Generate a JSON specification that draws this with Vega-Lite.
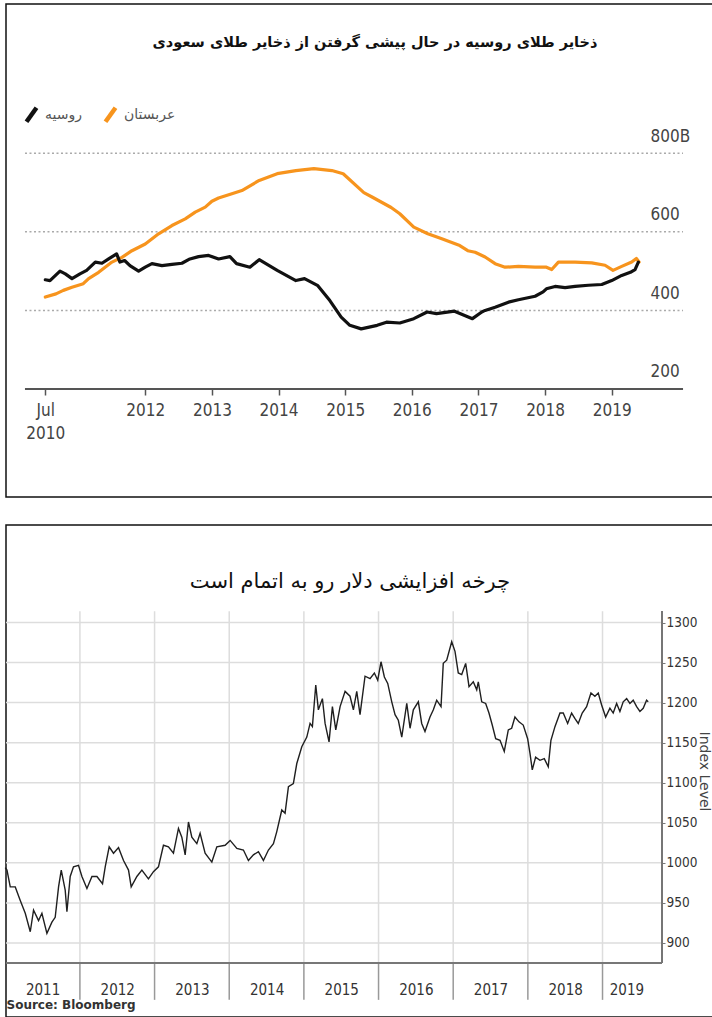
{
  "$schema": "https://vega.github.io/schema/vega-lite/v6.json",
  "background": "white",
  "padding": {"left": 1, "top": 3, "right": 1, "bottom": 3},
  "spacing": 26,
  "config": {
    "view": {"stroke": "#111", "strokeWidth": 1.5},
    "axis": {"labelFont": "Liberation Sans Narrow, DejaVu Sans Condensed, sans-serif"}
  },
  "datasets": {
    "reserves": [
      {"s": "عربستان", "t": 2010.5, "v": 434}, {"s": "عربستان", "t": 2010.66, "v": 442},
      {"s": "عربستان", "t": 2010.77, "v": 451}, {"s": "عربستان", "t": 2010.9, "v": 459},
      {"s": "عربستان", "t": 2011.07, "v": 468}, {"s": "عربستان", "t": 2011.15, "v": 481},
      {"s": "عربستان", "t": 2011.3, "v": 497}, {"s": "عربستان", "t": 2011.5, "v": 523},
      {"s": "عربستان", "t": 2011.65, "v": 535}, {"s": "عربستان", "t": 2011.8, "v": 552},
      {"s": "عربستان", "t": 2012.0, "v": 569}, {"s": "عربستان", "t": 2012.2, "v": 595},
      {"s": "عربستان", "t": 2012.4, "v": 616}, {"s": "عربستان", "t": 2012.6, "v": 633},
      {"s": "عربستان", "t": 2012.75, "v": 650}, {"s": "عربستان", "t": 2012.9, "v": 663},
      {"s": "عربستان", "t": 2013.0, "v": 678}, {"s": "عربستان", "t": 2013.1, "v": 686},
      {"s": "عربستان", "t": 2013.3, "v": 697}, {"s": "عربستان", "t": 2013.45, "v": 705},
      {"s": "عربستان", "t": 2013.71, "v": 731}, {"s": "عربستان", "t": 2013.98, "v": 748},
      {"s": "عربستان", "t": 2014.26, "v": 756}, {"s": "عربستان", "t": 2014.53, "v": 761},
      {"s": "عربستان", "t": 2014.8, "v": 756}, {"s": "عربستان", "t": 2014.97, "v": 748},
      {"s": "عربستان", "t": 2015.28, "v": 700}, {"s": "عربستان", "t": 2015.41, "v": 688},
      {"s": "عربستان", "t": 2015.69, "v": 662}, {"s": "عربستان", "t": 2015.82, "v": 646},
      {"s": "عربستان", "t": 2016.03, "v": 612}, {"s": "عربستان", "t": 2016.24, "v": 595},
      {"s": "عربستان", "t": 2016.44, "v": 583}, {"s": "عربستان", "t": 2016.72, "v": 565},
      {"s": "عربستان", "t": 2016.84, "v": 552}, {"s": "عربستان", "t": 2016.95, "v": 548},
      {"s": "عربستان", "t": 2017.1, "v": 536}, {"s": "عربستان", "t": 2017.25, "v": 519},
      {"s": "عربستان", "t": 2017.4, "v": 510}, {"s": "عربستان", "t": 2017.6, "v": 512},
      {"s": "عربستان", "t": 2017.85, "v": 510}, {"s": "عربستان", "t": 2018.02, "v": 510},
      {"s": "عربستان", "t": 2018.1, "v": 504}, {"s": "عربستان", "t": 2018.2, "v": 523},
      {"s": "عربستان", "t": 2018.45, "v": 523}, {"s": "عربستان", "t": 2018.7, "v": 521},
      {"s": "عربستان", "t": 2018.9, "v": 515}, {"s": "عربستان", "t": 2019.02, "v": 502},
      {"s": "عربستان", "t": 2019.15, "v": 512}, {"s": "عربستان", "t": 2019.3, "v": 523},
      {"s": "عربستان", "t": 2019.37, "v": 532}, {"s": "عربستان", "t": 2019.41, "v": 523},
      {"s": "روسیه", "t": 2010.5, "v": 478}, {"s": "روسیه", "t": 2010.57, "v": 476},
      {"s": "روسیه", "t": 2010.72, "v": 500}, {"s": "روسیه", "t": 2010.8, "v": 493},
      {"s": "روسیه", "t": 2010.9, "v": 481}, {"s": "روسیه", "t": 2011.02, "v": 493},
      {"s": "روسیه", "t": 2011.12, "v": 502}, {"s": "روسیه", "t": 2011.25, "v": 523},
      {"s": "روسیه", "t": 2011.35, "v": 520}, {"s": "روسیه", "t": 2011.45, "v": 531},
      {"s": "روسیه", "t": 2011.57, "v": 544}, {"s": "روسیه", "t": 2011.62, "v": 523},
      {"s": "روسیه", "t": 2011.69, "v": 527}, {"s": "روسیه", "t": 2011.77, "v": 514},
      {"s": "روسیه", "t": 2011.9, "v": 500}, {"s": "روسیه", "t": 2012.0, "v": 510},
      {"s": "روسیه", "t": 2012.1, "v": 519}, {"s": "روسیه", "t": 2012.25, "v": 514},
      {"s": "روسیه", "t": 2012.4, "v": 517}, {"s": "روسیه", "t": 2012.55, "v": 520},
      {"s": "روسیه", "t": 2012.67, "v": 531}, {"s": "روسیه", "t": 2012.8, "v": 537},
      {"s": "روسیه", "t": 2012.95, "v": 540}, {"s": "روسیه", "t": 2013.1, "v": 531},
      {"s": "روسیه", "t": 2013.27, "v": 537}, {"s": "روسیه", "t": 2013.37, "v": 519},
      {"s": "روسیه", "t": 2013.57, "v": 510}, {"s": "روسیه", "t": 2013.71, "v": 529},
      {"s": "روسیه", "t": 2013.98, "v": 502}, {"s": "روسیه", "t": 2014.26, "v": 476},
      {"s": "روسیه", "t": 2014.39, "v": 481}, {"s": "روسیه", "t": 2014.59, "v": 463},
      {"s": "روسیه", "t": 2014.77, "v": 425}, {"s": "روسیه", "t": 2014.94, "v": 383},
      {"s": "روسیه", "t": 2015.07, "v": 362}, {"s": "روسیه", "t": 2015.24, "v": 353},
      {"s": "روسیه", "t": 2015.48, "v": 362}, {"s": "روسیه", "t": 2015.62, "v": 370},
      {"s": "روسیه", "t": 2015.82, "v": 368}, {"s": "روسیه", "t": 2016.03, "v": 379},
      {"s": "روسیه", "t": 2016.23, "v": 396}, {"s": "روسیه", "t": 2016.37, "v": 392},
      {"s": "روسیه", "t": 2016.64, "v": 398}, {"s": "روسیه", "t": 2016.91, "v": 379},
      {"s": "روسیه", "t": 2017.05, "v": 396}, {"s": "روسیه", "t": 2017.1, "v": 400},
      {"s": "روسیه", "t": 2017.25, "v": 408}, {"s": "روسیه", "t": 2017.45, "v": 421},
      {"s": "روسیه", "t": 2017.6, "v": 427}, {"s": "روسیه", "t": 2017.85, "v": 436},
      {"s": "روسیه", "t": 2017.97, "v": 447}, {"s": "روسیه", "t": 2018.02, "v": 455},
      {"s": "روسیه", "t": 2018.15, "v": 461}, {"s": "روسیه", "t": 2018.3, "v": 458},
      {"s": "روسیه", "t": 2018.45, "v": 461}, {"s": "روسیه", "t": 2018.65, "v": 464},
      {"s": "روسیه", "t": 2018.85, "v": 466}, {"s": "روسیه", "t": 2019.0, "v": 476},
      {"s": "روسیه", "t": 2019.15, "v": 489}, {"s": "روسیه", "t": 2019.28, "v": 497},
      {"s": "روسیه", "t": 2019.35, "v": 504}, {"s": "روسیه", "t": 2019.4, "v": 523}
    ],
    "resLevels": [{"v": 400}, {"v": 600}, {"v": 800}],
    "index": [
      {"t": 2011.0, "v": 994}, {"t": 2011.023, "v": 991}, {"t": 2011.067, "v": 970}, {"t": 2011.134, "v": 970},
      {"t": 2011.201, "v": 953}, {"t": 2011.268, "v": 937}, {"t": 2011.335, "v": 914},
      {"t": 2011.379, "v": 941}, {"t": 2011.446, "v": 928}, {"t": 2011.491, "v": 937},
      {"t": 2011.558, "v": 912}, {"t": 2011.625, "v": 926}, {"t": 2011.669, "v": 932},
      {"t": 2011.714, "v": 970}, {"t": 2011.75, "v": 991}, {"t": 2011.803, "v": 966},
      {"t": 2011.826, "v": 939}, {"t": 2011.87, "v": 983}, {"t": 2011.914, "v": 995},
      {"t": 2011.981, "v": 997}, {"t": 2012.027, "v": 983}, {"t": 2012.094, "v": 968},
      {"t": 2012.161, "v": 983}, {"t": 2012.228, "v": 983}, {"t": 2012.303, "v": 974},
      {"t": 2012.339, "v": 995}, {"t": 2012.392, "v": 1020}, {"t": 2012.45, "v": 1012},
      {"t": 2012.517, "v": 1019}, {"t": 2012.584, "v": 1003}, {"t": 2012.651, "v": 991},
      {"t": 2012.687, "v": 970}, {"t": 2012.763, "v": 983}, {"t": 2012.83, "v": 991},
      {"t": 2012.918, "v": 980}, {"t": 2012.985, "v": 989}, {"t": 2013.052, "v": 995},
      {"t": 2013.119, "v": 1022}, {"t": 2013.186, "v": 1020}, {"t": 2013.253, "v": 1012},
      {"t": 2013.32, "v": 1043}, {"t": 2013.365, "v": 1032}, {"t": 2013.41, "v": 1010},
      {"t": 2013.454, "v": 1051}, {"t": 2013.499, "v": 1032}, {"t": 2013.566, "v": 1024},
      {"t": 2013.61, "v": 1037}, {"t": 2013.677, "v": 1012}, {"t": 2013.767, "v": 1001},
      {"t": 2013.834, "v": 1020}, {"t": 2013.945, "v": 1022}, {"t": 2014.012, "v": 1028},
      {"t": 2014.102, "v": 1018}, {"t": 2014.19, "v": 1016}, {"t": 2014.257, "v": 1003},
      {"t": 2014.324, "v": 1010}, {"t": 2014.391, "v": 1014}, {"t": 2014.458, "v": 1003},
      {"t": 2014.525, "v": 1016}, {"t": 2014.592, "v": 1024}, {"t": 2014.637, "v": 1039},
      {"t": 2014.704, "v": 1066}, {"t": 2014.748, "v": 1062}, {"t": 2014.793, "v": 1095},
      {"t": 2014.859, "v": 1099}, {"t": 2014.905, "v": 1124}, {"t": 2014.972, "v": 1145},
      {"t": 2015.039, "v": 1157}, {"t": 2015.083, "v": 1174}, {"t": 2015.114, "v": 1170},
      {"t": 2015.159, "v": 1222}, {"t": 2015.194, "v": 1191}, {"t": 2015.248, "v": 1205},
      {"t": 2015.284, "v": 1174}, {"t": 2015.337, "v": 1151}, {"t": 2015.382, "v": 1195},
      {"t": 2015.427, "v": 1166}, {"t": 2015.485, "v": 1195}, {"t": 2015.552, "v": 1214},
      {"t": 2015.618, "v": 1208}, {"t": 2015.663, "v": 1191}, {"t": 2015.708, "v": 1214},
      {"t": 2015.752, "v": 1185}, {"t": 2015.819, "v": 1233}, {"t": 2015.886, "v": 1230},
      {"t": 2015.944, "v": 1237}, {"t": 2015.989, "v": 1228}, {"t": 2016.033, "v": 1251},
      {"t": 2016.078, "v": 1232}, {"t": 2016.123, "v": 1224}, {"t": 2016.177, "v": 1201},
      {"t": 2016.221, "v": 1185}, {"t": 2016.265, "v": 1178}, {"t": 2016.311, "v": 1157},
      {"t": 2016.378, "v": 1199}, {"t": 2016.422, "v": 1168}, {"t": 2016.466, "v": 1191},
      {"t": 2016.533, "v": 1201}, {"t": 2016.578, "v": 1174}, {"t": 2016.622, "v": 1164},
      {"t": 2016.689, "v": 1182}, {"t": 2016.734, "v": 1191}, {"t": 2016.779, "v": 1203},
      {"t": 2016.837, "v": 1195}, {"t": 2016.867, "v": 1249}, {"t": 2016.913, "v": 1253},
      {"t": 2016.98, "v": 1276}, {"t": 2017.024, "v": 1264}, {"t": 2017.068, "v": 1237},
      {"t": 2017.114, "v": 1235}, {"t": 2017.167, "v": 1249}, {"t": 2017.212, "v": 1220},
      {"t": 2017.269, "v": 1226}, {"t": 2017.315, "v": 1216}, {"t": 2017.336, "v": 1226},
      {"t": 2017.382, "v": 1201}, {"t": 2017.435, "v": 1199}, {"t": 2017.479, "v": 1187},
      {"t": 2017.523, "v": 1172}, {"t": 2017.569, "v": 1155}, {"t": 2017.627, "v": 1153},
      {"t": 2017.684, "v": 1139}, {"t": 2017.738, "v": 1166}, {"t": 2017.783, "v": 1168},
      {"t": 2017.827, "v": 1182}, {"t": 2017.881, "v": 1176}, {"t": 2017.938, "v": 1172},
      {"t": 2017.997, "v": 1155}, {"t": 2018.028, "v": 1137}, {"t": 2018.059, "v": 1116},
      {"t": 2018.104, "v": 1132}, {"t": 2018.162, "v": 1128}, {"t": 2018.22, "v": 1130},
      {"t": 2018.273, "v": 1120}, {"t": 2018.309, "v": 1153}, {"t": 2018.363, "v": 1170},
      {"t": 2018.43, "v": 1187}, {"t": 2018.474, "v": 1187}, {"t": 2018.533, "v": 1174},
      {"t": 2018.586, "v": 1187}, {"t": 2018.631, "v": 1180}, {"t": 2018.675, "v": 1174},
      {"t": 2018.728, "v": 1187}, {"t": 2018.787, "v": 1195}, {"t": 2018.845, "v": 1212},
      {"t": 2018.898, "v": 1208}, {"t": 2018.943, "v": 1212}, {"t": 2018.988, "v": 1197},
      {"t": 2019.042, "v": 1182}, {"t": 2019.099, "v": 1193}, {"t": 2019.143, "v": 1187},
      {"t": 2019.189, "v": 1199}, {"t": 2019.233, "v": 1189}, {"t": 2019.277, "v": 1201},
      {"t": 2019.323, "v": 1205}, {"t": 2019.367, "v": 1199}, {"t": 2019.411, "v": 1203},
      {"t": 2019.457, "v": 1195}, {"t": 2019.501, "v": 1189}, {"t": 2019.545, "v": 1193},
      {"t": 2019.59, "v": 1203}, {"t": 2019.612, "v": 1201}
    ],
    "idxLevels": [{"v": 900}, {"v": 950}, {"v": 1000}, {"v": 1050}, {"v": 1100}, {"v": 1150}, {"v": 1200}, {"v": 1250}, {"v": 1300}],
    "years": [{"yr": 2012}, {"yr": 2013}, {"yr": 2014}, {"yr": 2015}, {"yr": 2016}, {"yr": 2017}, {"yr": 2018}, {"yr": 2019}]
  },
  "vconcat": [
    {
      "width": 710,
      "height": 493,
      "title": {
        "text": "ذخایر طلای روسیه در حال پیشی گرفتن از ذخایر طلای سعودی",
        "font": "DejaVu Sans", "fontSize": 14.5, "fontWeight": "bold", "color": "#111",
        "anchor": "middle", "dx": 14, "offset": -53, "baseline": "middle"
      },
      "layer": [
        {
          "data": {"name": "resLevels"},
          "mark": {"type": "rule", "color": "#aaa", "strokeWidth": 1.5, "strokeDash": [2, 2.5]},
          "encoding": {
            "y": {
              "field": "v", "type": "quantitative",
              "scale": {"domain": [-75, 1180], "nice": false, "zero": false},
              "axis": {
                "orient": "right", "offset": -66, "values": [200, 400, 600, 800],
                "labelExpr": "datum.value == 800 ? '800B' : datum.label",
                "ticks": false, "domain": false, "grid": false,
                "labelAlign": "left", "labelPadding": 0, "labelOffset": -17, "labelBaseline": "middle",
                "labelFontSize": 17, "labelColor": "#444", "title": null
              }
            },
            "x": {
              "datum": 2010.195, "type": "quantitative",
              "scale": {"domain": [2009.91, 2020.565], "nice": false, "zero": false},
              "axis": {
                "values": [2010.5, 2012, 2013, 2014, 2015, 2016, 2017, 2018, 2019],
                "offset": -108, "domain": false, "grid": false,
                "tickSize": 6, "tickColor": "#555", "tickWidth": 1.5,
                "labelExpr": "datum.value == 2010.5 ? ['Jul', '2010'] : format(datum.value, 'd')",
                "labelFontSize": 17, "labelColor": "#444", "labelPadding": 7, "labelLineHeight": 23,
                "labelFlush": false, "labelOverlap": false, "title": null
              }
            },
            "x2": {"datum": 2020.07}
          }
        },
        {
          "data": {"name": "resLevels"},
          "mark": {"type": "rule", "color": "#555", "strokeWidth": 2},
          "encoding": {
            "y": {"datum": 200, "type": "quantitative"},
            "x": {"datum": 2010.195, "type": "quantitative"},
            "x2": {"datum": 2020.07}
          }
        },
        {
          "data": {"name": "reserves"},
          "mark": {"type": "line", "strokeWidth": 3.2, "strokeJoin": "round", "strokeCap": "round"},
          "encoding": {
            "x": {"field": "t", "type": "quantitative"},
            "y": {"field": "v", "type": "quantitative"},
            "color": {
              "field": "s", "type": "nominal",
              "scale": {"domain": ["روسیه", "عربستان"], "range": ["#111111", "#f7941d"]},
              "legend": {
                "orient": "none", "legendX": 13, "legendY": 98, "direction": "horizontal", "title": null,
                "symbolType": "M-0.5,0.7L0.5,-0.7", "symbolSize": 400, "symbolStrokeWidth": 4.5,
                "labelFont": "DejaVu Sans", "labelFontSize": 14, "labelColor": "#555",
                "labelOffset": 1, "columnPadding": 14
              }
            }
          }
        }
      ]
    },
    {
      "width": 710,
      "height": 492,
      "title": {
        "text": "چرخه افزایشی دلار رو به اتمام است",
        "font": "DejaVu Sans", "fontSize": 21, "fontWeight": "normal", "color": "#111",
        "anchor": "middle", "dx": -11, "offset": -78, "baseline": "middle"
      },
      "layer": [
        {
          "data": {"name": "idxLevels"},
          "mark": {"type": "rule", "color": "#dddddd", "strokeWidth": 1.5},
          "encoding": {
            "y": {
              "field": "v", "type": "quantitative",
              "scale": {"domain": [807.6, 1421.7], "nice": false, "zero": false},
              "axis": {
                "orient": "right", "offset": -54, "format": "d",
                "values": [900, 950, 1000, 1050, 1100, 1150, 1200, 1250, 1300],
                "domain": false, "grid": false, "tickSize": 3, "tickColor": "#777",
                "labelPadding": 1, "labelFontSize": 13.5, "labelColor": "#333",
                "title": "Index Level", "titleAngle": 90, "titleFont": "DejaVu Sans",
                "titleFontSize": 14, "titleFontWeight": "normal", "titleColor": "#444", "titlePadding": 0
              }
            },
            "x": {
              "datum": 2011.01, "type": "quantitative",
              "scale": {"domain": [2011.01, 2020.52], "nice": false, "zero": false},
              "axis": {
                "values": [2011.5, 2012.5, 2013.5, 2014.5, 2015.5, 2016.5, 2017.5, 2018.5, 2019.32],
                "labelExpr": "format(floor(datum.value), 'd')",
                "offset": -54, "domain": false, "ticks": false, "grid": false,
                "labelFontSize": 15, "labelColor": "#333", "labelPadding": 19,
                "labelFlush": false, "labelOverlap": false,
                "title": "Source: Bloomberg", "titleAnchor": "start", "titleAlign": "left",
                "titleFont": "DejaVu Sans", "titleFontWeight": "bold", "titleFontSize": 12,
                "titleColor": "#333", "titlePadding": 2
              }
            },
            "x2": {"datum": 2019.795}
          }
        },
        {
          "data": {"name": "years"},
          "mark": {"type": "rule", "color": "#dddddd", "strokeWidth": 1.5},
          "encoding": {
            "x": {"field": "yr", "type": "quantitative"},
            "y": {"datum": 875, "type": "quantitative"},
            "y2": {"datum": 1314}
          }
        },
        {
          "data": {"name": "years"},
          "mark": {"type": "rule", "color": "#999999", "strokeWidth": 1.5},
          "encoding": {
            "x": {"field": "yr", "type": "quantitative"},
            "y": {"datum": 829, "type": "quantitative"},
            "y2": {"datum": 875}
          }
        },
        {
          "data": {"name": "years"},
          "mark": {"type": "rule", "color": "#777777", "strokeWidth": 1.5},
          "encoding": {
            "y": {"datum": 875, "type": "quantitative"},
            "x": {"datum": 2011.01, "type": "quantitative"},
            "x2": {"datum": 2019.795}
          }
        },
        {
          "data": {"name": "years"},
          "mark": {"type": "rule", "color": "#777777", "strokeWidth": 1.5},
          "encoding": {
            "x": {"datum": 2019.795, "type": "quantitative"},
            "y": {"datum": 875, "type": "quantitative"},
            "y2": {"datum": 1314}
          }
        },
        {
          "data": {"name": "index"},
          "mark": {"type": "line", "color": "#1f1f1f", "strokeWidth": 1.4},
          "encoding": {
            "x": {"field": "t", "type": "quantitative"},
            "y": {"field": "v", "type": "quantitative"}
          }
        }
      ]
    }
  ]
}
